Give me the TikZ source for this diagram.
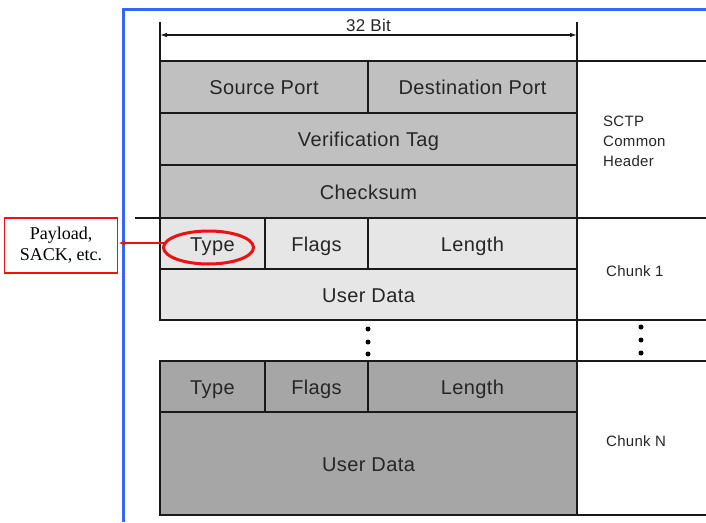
\documentclass[tikz,border=0pt]{standalone}
\usepackage{fontspec}
\setmainfont{Liberation Serif}
\newfontfamily\tblfont[LetterSpace=2]{Liberation Sans}
\usetikzlibrary{arrows.meta}
\definecolor{hdrgray}{HTML}{C0C0C0}
\definecolor{c1gray}{HTML}{E6E6E6}
\definecolor{cngray}{HTML}{A6A6A6}
\definecolor{framblue}{HTML}{3366FF}
\definecolor{lineclr}{HTML}{1A1A1A}
\definecolor{callred}{HTML}{EE1111}
\tikzset{
  cell/.style={draw=lineclr, line width=1.2pt, anchor=north west, inner sep=0pt, outer sep=0pt,
    font=\tblfont\fontsize{20}{22}\selectfont, text=black!85, text height=15pt, text depth=0pt},
  rule/.style={draw=lineclr, line width=1.2pt},
  sidelbl/.style={font=\tblfont\fontsize{15}{20}\selectfont, anchor=west, align=left, inner sep=0pt, text=black!85},
  vdot/.style={fill=black, draw=none, circle, minimum size=5pt, inner sep=0pt},
  callbox/.style={draw=callred, line width=1.3pt, align=center, inner sep=0pt,
    minimum width=113pt, minimum height=55pt, font=\fontsize{18}{21}\selectfont},
}
\begin{document}
\begin{tikzpicture}[x=1pt,y=-1pt]
\useasboundingbox (0,0) rectangle (706,522);
% blue frame
\draw[framblue, line width=3pt] (123,522) -- (123,9.5) -- (706,9.5);
% dimension
\coordinate (dl) at (160,22);
\coordinate (dr) at (577,22);
\coordinate (al) at (160,35);
\coordinate (ar) at (577,35);
\draw[rule] (dl) -- (160,61);
\draw[rule] (dr) -- (577,515);
\draw[lineclr, line width=1.2pt, {Latex[length=7pt,width=4.5pt]}-{Latex[length=7pt,width=4.5pt]}] (al) -- (ar)
  node[midway, above=3pt, font=\tblfont\fontsize{17}{18}\selectfont, text=black!85, inner sep=0pt] (bits) {32 Bit};
% header
\node[cell, fill=hdrgray, minimum width=208pt, minimum height=52pt] (sp) at (160,61) {Source Port};
\node[cell, fill=hdrgray, minimum width=209pt, minimum height=52pt] (dp) at (368,61) {Destination Port};
\node[cell, fill=hdrgray, minimum width=417pt, minimum height=52pt] (vt) at (160,113) {Verification Tag};
\node[cell, fill=hdrgray, minimum width=417pt, minimum height=53pt] (cs) at (160,165) {Checksum};
% chunk 1
\node[cell, fill=c1gray, minimum width=105pt, minimum height=51pt] (t1) at (160,218) {Type};
\node[cell, fill=c1gray, minimum width=103pt, minimum height=51pt] (f1) at (265,218) {Flags};
\node[cell, fill=c1gray, minimum width=209pt, minimum height=51pt] (l1) at (368,218) {Length};
\node[cell, fill=c1gray, minimum width=417pt, minimum height=51pt] (u1) at (160,269) {User Data};
% chunk N
\node[cell, fill=cngray, minimum width=105pt, minimum height=51pt] (tN) at (160,361) {Type};
\node[cell, fill=cngray, minimum width=103pt, minimum height=51pt] (fN) at (265,361) {Flags};
\node[cell, fill=cngray, minimum width=209pt, minimum height=51pt] (lN) at (368,361) {Length};
\node[cell, fill=cngray, minimum width=417pt, minimum height=103pt] (uN) at (160,412) {User Data};
% extension rules
\draw[rule] (577,61) -- (706,61);
\draw[rule] (135,218) -- (706,218);
\draw[rule] (577,320) -- (706,320);
\draw[rule] (577,361) -- (706,361);
\draw[rule] (577,515) -- (706,515);
% side labels
\node[sidelbl] (hdr) at (603,141) {SCTP\\Common\\Header};
\node[sidelbl] (ch1) at (606,271) {Chunk 1};
\node[sidelbl] (chN) at (606,441) {Chunk N};
% dots
\node[vdot] (m1) at (368,329) {};
\node[vdot] (m2) at (368,342) {};
\node[vdot] (m3) at (368,354) {};
\node[vdot] (r1) at (641,327) {};
\node[vdot] (r2) at (641,340) {};
\node[vdot] (r3) at (641,353) {};
% callout
\draw[callred, line width=3pt] (208.5,247.5) ellipse [x radius=45, y radius=16.5];
\coordinate (elw) at (163.5,243);
\node[callbox] (cb) at (61,245.5) {Payload,\\SACK, etc.};
\draw[callred, line width=1.2pt, -{Latex[length=7pt,width=5pt]}] (elw) -- (cb.east |- elw);
\end{tikzpicture}
\end{document}
